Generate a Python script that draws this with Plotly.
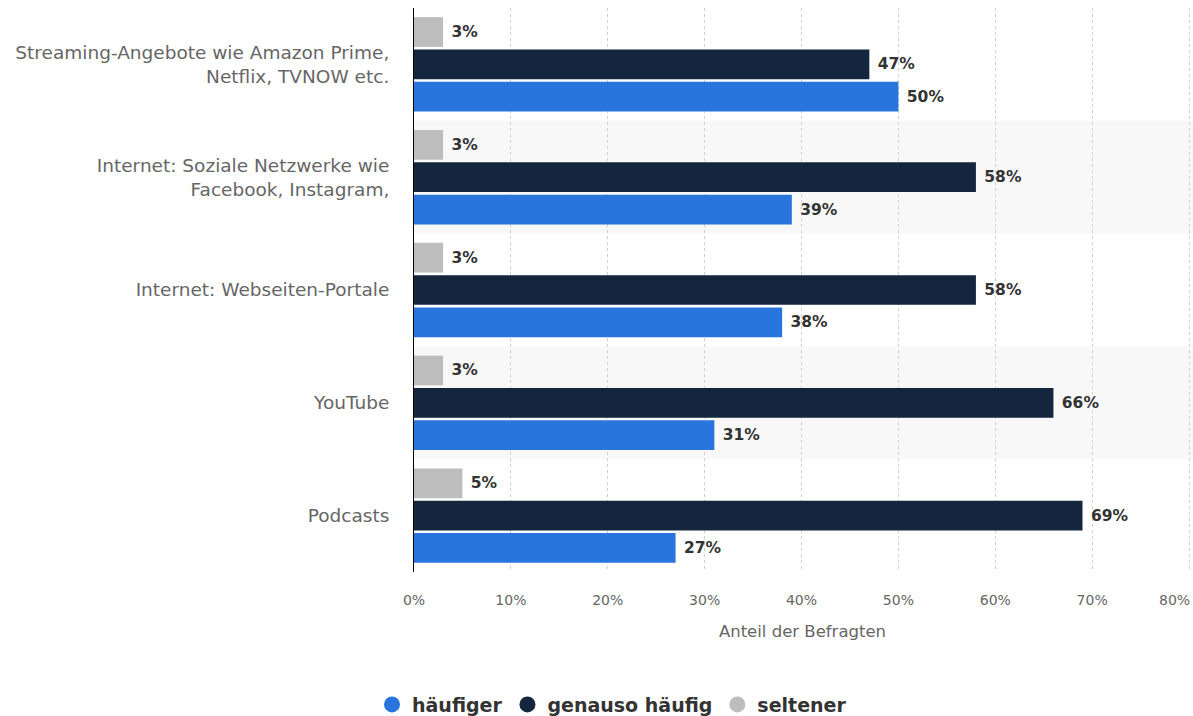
import plotly.graph_objects as go

categories = [
    "Streaming-Angebote wie Amazon Prime,<br>Netflix, TVNOW etc.",
    "Internet: Soziale Netzwerke wie<br>Facebook, Instagram,",
    "Internet: Webseiten-Portale",
    "YouTube",
    "Podcasts",
]
haeufiger = [50, 39, 38, 31, 27]
genauso = [47, 58, 58, 66, 69]
seltener = [3, 3, 3, 3, 5]
series_names = ["häufiger", "genauso häufig", "seltener"]
series_colors = ["#2876dd", "#14263d", "#bdbdbd"]
x_ticks = [0, 10, 20, 30, 40, 50, 60, 70, 80]

fig = go.Figure()
for name, vals, col in zip(series_names, [haeufiger, genauso, seltener], series_colors):
    fig.add_trace(go.Bar(
        y=categories, x=vals, orientation="h", name=name,
        marker=dict(color=col, line=dict(width=0)),
        text=[f"{v}%" for v in vals], textposition="outside",
        textfont=dict(family="DejaVu Sans", size=15.5, color="#333333", weight="bold"),
        texttemplate="\u00a0%{text}", cliponaxis=False,
        showlegend=False,
    ))
for name, col in zip(series_names, series_colors):
    fig.add_trace(go.Scatter(
        x=[None], y=[None], mode="markers", name=name,
        marker=dict(color=col, size=19, symbol="circle"),
        showlegend=True,
    ))

# alternating band shading (categories 2 and 4 from the top)
n = len(categories)
for i in [1, 3]:
    idx = n - 1 - i
    fig.add_shape(type="rect", xref="paper", yref="y", x0=0, x1=1.01,
                  y0=idx - 0.5, y1=idx + 0.5, fillcolor="#f8f8f8",
                  line=dict(width=0), layer="below")

# last tick label is pushed inside the chart edge (as in the reference)
last_tick = x_ticks[-1]
tick_text = [f"{t}%" for t in x_ticks[:-1]] + [""]
fig.add_annotation(x=last_tick, xref="x", y=-0.0496, yref="paper",
                   text=f"{last_tick}%", showarrow=False, xanchor="right",
                   yanchor="middle", xshift=3,
                   font=dict(family="DejaVu Sans", size=14, color="#666666"))

fig.update_layout(
    width=1193, height=716,
    margin=dict(l=414, r=2, t=8, b=144, autoexpand=False),
    paper_bgcolor="white", plot_bgcolor="white",
    barmode="group", bargap=0.14, bargroupgap=0.08,
    font=dict(family="DejaVu Sans", color="#666666"),
    legend=dict(orientation="h", xref="container", yref="container",
                x=0.513, xanchor="center", y=0.016, yanchor="middle",
                font=dict(family="DejaVu Sans", size=19, color="#333333", weight="bold"),
                itemsizing="trace"),
)
fig.update_xaxes(
    range=[0, 80.2], tickvals=x_ticks, ticktext=tick_text,
    showgrid=True, gridcolor="#d0d0d0", griddash="dot", gridwidth=1,
    zeroline=False, showline=False, ticks="", automargin=False,
    tickfont=dict(family="DejaVu Sans", size=14, color="#666666"),
    ticklabelstandoff=18,
    title=dict(text="Anteil der Befragten", standoff=18,
               font=dict(family="DejaVu Sans", size=16.5, color="#666666")),
)
fig.update_yaxes(
    categoryorder="array", categoryarray=categories[::-1],
    showline=True, linecolor="#000000", linewidth=1, automargin=False,
    showgrid=False, ticks="", ticklabelstandoff=20,
    tickfont=dict(family="DejaVu Sans", size=18.5, color="#666666"),
)
fig.write_html("out.html")
